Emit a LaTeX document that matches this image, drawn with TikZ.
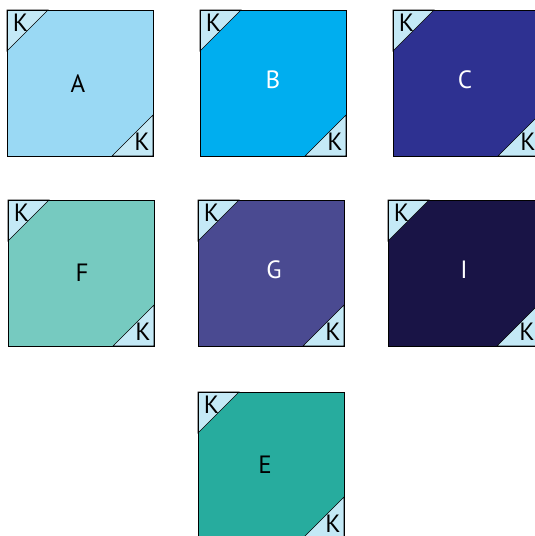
\documentclass[tikz,border=0pt]{standalone}
\usepackage{fontspec}
\setmainfont{PT Sans}
\usetikzlibrary{calc}
\definecolor{tileA}{HTML}{9AD9F4}
\definecolor{tileB}{HTML}{00AEEF}
\definecolor{tileC}{HTML}{2E3191}
\definecolor{tileF}{HTML}{76CAC0}
\definecolor{tileG}{HTML}{4A4A91}
\definecolor{tileI}{HTML}{191446}
\definecolor{tileE}{HTML}{27AC9E}
\definecolor{cornerFill}{HTML}{C4E9F6}
\tikzset{
  tileBox/.style={draw=black, line width=0.8pt},
  cornerTri/.style={draw=black, fill=cornerFill, line width=0.6pt},
  tileLabel/.style={inner sep=0pt, font=\fontsize{25}{25}\selectfont},
  cornerLabel/.style={inner sep=0pt, font=\fontsize{25}{25}\selectfont, text=black}
}
\begin{document}
\begin{tikzpicture}[x=1pt, y=-1pt]
  \useasboundingbox (0,0) rectangle (535,536);
  \begin{scope}
    \clip (0,0) rectangle (535,536);
    \foreach \px/\py/\w/\col/\txt/\tcol/\lx/\ly/\nm in {
        7/10/146/tileA/A/black/71/74/a,
        200/10/146/tileB/B/white/73/70/b,
        393/10/146/tileC/C/white/72/70/c,
        8/200/146/tileF/F/black/74/73/f,
        198/200/146/tileG/G/white/76/70/g,
        388/200/150/tileI/I/white/76/70/i,
        198/392/146/tileE/E/black/67/73/e} {
      % square tile with two cut corners
      \coordinate (\nm-nw) at (\px,\py);
      \coordinate (\nm-se) at ($(\px,\py)+(\w,146)$);
      \fill[\col] (\nm-nw) rectangle (\nm-se);
      \draw[cornerTri] (\nm-nw) -- ++(41,0) -- ++(-41,41) -- cycle;
      \draw[cornerTri] (\nm-se) -- ++(-41,0) -- ++(41,-41) -- cycle;
      \draw[tileBox] (\nm-nw) rectangle (\nm-se);
      \node[tileLabel, text=\tcol] (\nm-lab) at ($(\nm-nw)+(\lx,\ly)$) {\txt};
      \node[cornerLabel] (\nm-k1) at ($(\nm-nw)+(13.5,12.5)$) {K};
      \node[cornerLabel] (\nm-k2) at ($(\nm-se)+(-11,-14)$) {K};
    }
  \end{scope}
\end{tikzpicture}
\end{document}
